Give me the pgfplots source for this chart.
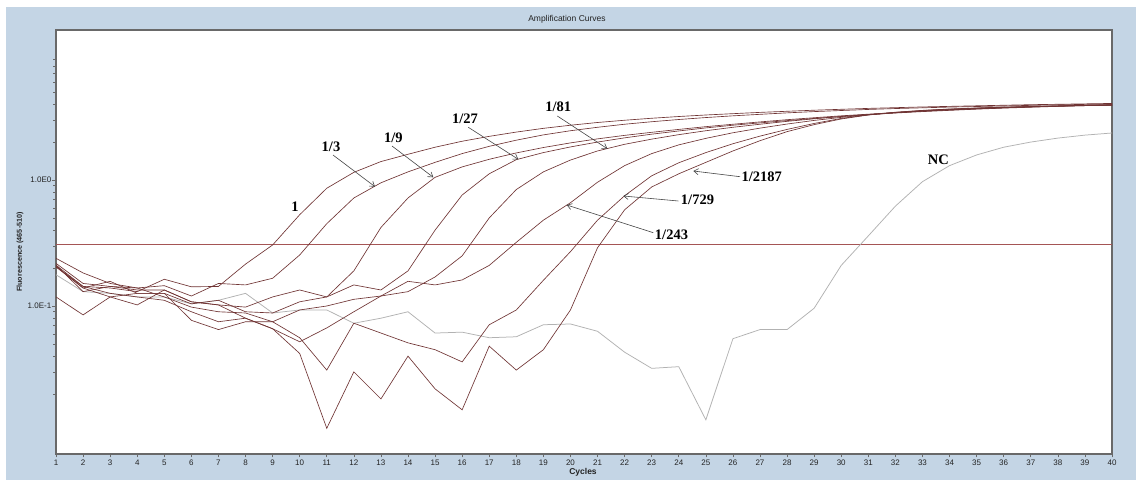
\documentclass[border=0pt]{standalone}
\usepackage{fontspec}
\setmainfont{Liberation Sans}
\newfontfamily\annfont{Liberation Serif}
\usepackage{pgfplots}
\pgfplotsset{compat=1.18}
\usepackage{pgfplotstable}
\usetikzlibrary{arrows.meta}

\definecolor{panel}{RGB}{196,213,229}
\definecolor{frame}{RGB}{105,105,105}
\definecolor{curve}{RGB}{112,52,52}
\definecolor{thr}{RGB}{165,85,85}
\definecolor{nc}{RGB}{178,178,178}
\definecolor{txt}{RGB}{35,35,35}
\definecolor{arr}{RGB}{70,70,70}

% cycle, 1, 1/3, 1/9, 1/27, 1/81, 1/243, 1/729, 1/2187, NC
\pgfplotstableread{
c  s1    s3    s9    s27   s81   s243  s729  s2187  nc
1  0.211 0.239 0.218 0.205 0.211 0.205 0.205 0.118  0.177
2  0.143 0.183 0.151 0.139 0.130 0.143 0.139 0.085  0.130
3  0.139 0.151 0.143 0.157 0.143 0.126 0.118 0.118  0.126
4  0.130 0.139 0.134 0.126 0.139 0.118 0.126 0.102  0.118
5  0.163 0.145 0.134 0.126 0.118 0.111 0.126 0.134  0.118
6  0.142 0.120 0.108 0.104 0.098 0.090 0.077 0.108  0.104
7  0.143 0.151 0.102 0.111 0.090 0.075 0.065 0.102  0.111
8  0.215 0.147 0.098 0.090 0.088 0.080 0.075 0.080  0.126
9  0.305 0.166 0.118 0.088 0.075 0.066 0.075 0.066  0.088
10 0.530 0.254 0.134 0.108 0.093 0.052 0.056 0.042  0.093
11 0.860 0.450 0.118 0.118 0.100 0.067 0.031 0.0107 0.093
12 1.150 0.720 0.190 0.147 0.113 0.090 0.073 0.030  0.073
13 1.400 0.950 0.420 0.134 0.120 0.120 0.061 0.0183 0.080
14 1.600 1.160 0.720 0.190 0.130 0.157 0.051 0.040  0.090
15 1.820 1.380 1.050 0.400 0.170 0.147 0.045 0.022  0.061
16 2.030 1.620 1.270 0.760 0.250 0.161 0.036 0.015  0.062
17 2.220 1.850 1.460 1.120 0.500 0.210 0.071 0.048  0.056
18 2.400 2.070 1.640 1.450 0.840 0.320 0.093 0.031  0.057
19 2.570 2.280 1.810 1.650 1.160 0.480 0.160 0.045  0.071
20 2.720 2.460 1.970 1.830 1.440 0.660 0.270 0.093  0.072
21 2.860 2.620 2.120 2.000 1.700 0.960 0.480 0.290  0.063
22 2.980 2.770 2.260 2.160 1.920 1.300 0.750 0.580  0.043
23 3.090 2.900 2.390 2.310 2.110 1.620 1.080 0.880  0.032
24 3.190 3.020 2.520 2.450 2.290 1.900 1.370 1.120  0.033
25 3.280 3.130 2.650 2.590 2.460 2.140 1.650 1.380  0.0125
26 3.360 3.230 2.770 2.720 2.620 2.370 1.940 1.700  0.055
27 3.440 3.320 2.890 2.840 2.770 2.580 2.230 2.050  0.065
28 3.510 3.410 3.010 2.960 2.920 2.780 2.520 2.420  0.065
29 3.580 3.490 3.120 3.080 3.060 2.970 2.810 2.750  0.096
30 3.640 3.560 3.230 3.190 3.190 3.140 3.080 3.050  0.210
31 3.700 3.630 3.330 3.300 3.310 3.290 3.290 3.280  0.360
32 3.750 3.690 3.430 3.400 3.420 3.420 3.450 3.440  0.620
33 3.800 3.740 3.520 3.490 3.520 3.530 3.570 3.560  0.970
34 3.840 3.790 3.600 3.570 3.600 3.620 3.660 3.650  1.300
35 3.880 3.830 3.670 3.650 3.680 3.700 3.730 3.720  1.580
36 3.920 3.870 3.740 3.720 3.750 3.760 3.790 3.780  1.820
37 3.960 3.910 3.800 3.780 3.810 3.820 3.830 3.820  2.000
38 3.990 3.950 3.860 3.840 3.860 3.870 3.870 3.860  2.150
39 4.020 3.980 3.910 3.890 3.910 3.910 3.900 3.890  2.270
40 4.050 4.010 3.960 3.940 3.950 3.950 3.920 3.920  2.360
}\qpcr

\newcommand\annf{\annfont\bfseries\fontsize{14.5}{16}\selectfont}

\begin{document}
\begin{tikzpicture}
\fill[white] (0pt,0pt) rectangle (1136pt,480pt);
\fill[panel] (6pt,0pt) rectangle (1136pt,473pt);
\node[font=\fontsize{8.5}{10}\selectfont, text=txt] at (567pt,461pt) {Amplification Curves};
\node[rotate=90, font=\fontsize{7.2}{8}\selectfont\bfseries, text=txt] at (20pt,228pt) {Fluorescence (465-510)};
\node[font=\fontsize{8.5}{10}\selectfont\bfseries, text=txt] at (583pt,8pt) {Cycles};

\begin{axis}[
  at={(56pt,26pt)}, anchor=south west,
  scale only axis, width=1056pt, height=424pt,
  xmin=1, xmax=40,
  ymode=log, ymin=0.00669, ymax=15.5,
  axis background/.style={fill=white},
  axis line style={draw=frame, line width=1.5pt},
  xtick={1,2,...,40},
  ytick={0.1,1}, yticklabels={{1.0E-1},{1.0E0}},
  minor ytick={0.02,0.03,0.04,0.05,0.06,0.07,0.08,0.09,0.2,0.3,0.4,0.5,0.6,0.7,0.8,0.9,2,3,4,5,6,7,8,9},
  xtick pos=bottom, ytick pos=left,
  tick align=outside,
  major tick length=3.5pt, minor tick length=2.5pt,
  tick style={draw=frame, line width=0.6pt},
  /pgf/number format/assume math mode=true,
  xticklabel style={font=\fontsize{8}{9}\selectfont, text=txt, inner sep=1pt, yshift=-1pt},
  yticklabel style={font=\fontsize{8}{9}\selectfont, text=txt, inner sep=1pt},
  clip=true,
]
\addplot[thr, line width=1pt] coordinates {(1,0.305) (40,0.305)};
\addplot[nc, line width=0.75pt] table[x=c, y=nc] {\qpcr};
\addplot[curve, line width=0.65pt] table[x=c, y=s2187] {\qpcr};
\addplot[curve, line width=0.65pt] table[x=c, y=s729] {\qpcr};
\addplot[curve, line width=0.65pt] table[x=c, y=s243] {\qpcr};
\addplot[curve, line width=0.65pt] table[x=c, y=s81] {\qpcr};
\addplot[curve, line width=0.65pt] table[x=c, y=s27] {\qpcr};
\addplot[curve, line width=0.65pt] table[x=c, y=s9] {\qpcr};
\addplot[curve, line width=0.65pt] table[x=c, y=s3] {\qpcr};
\addplot[curve, line width=0.65pt] table[x=c, y=s1] {\qpcr};
\end{axis}

% annotations (image pixel coords: X = px, Y = 480 - py)
\begin{scope}[arr/.style={draw=arr, line width=0.6pt, -{Straight Barb[length=4.5pt,width=6pt]}}]
\node[font=\annf] at (295pt,273.3pt) {1};
\node[font=\annf] at (331pt,333.3pt) {1/3};
\draw[arr] (333pt,325pt) -- (375pt,293.3pt);
\node[font=\annf] at (393.3pt,342.7pt) {1/9};
\draw[arr] (392pt,334pt) -- (433.3pt,302.7pt);
\node[font=\annf] at (465pt,361.7pt) {1/27};
\draw[arr] (468.3pt,352.7pt) -- (518.3pt,320.7pt);
\node[font=\annf] at (558.3pt,373.3pt) {1/81};
\draw[arr] (557.3pt,364pt) -- (607.3pt,331.3pt);
\node[font=\annf] at (671.5pt,245pt) {1/243};
\draw[arr] (653.3pt,247.3pt) -- (566.7pt,275pt);
\node[font=\annf] at (697.5pt,280.7pt) {1/729};
\draw[arr] (678.3pt,279pt) -- (623.3pt,284pt);
\node[font=\annf] at (761.7pt,303.3pt) {1/2187};
\draw[arr] (740pt,303.3pt) -- (693.3pt,309pt);
\node[font=\annf] at (938.3pt,320.7pt) {NC};
\end{scope}
\useasboundingbox (0pt,0pt) rectangle (1136pt,480pt);
\end{tikzpicture}
\end{document}
